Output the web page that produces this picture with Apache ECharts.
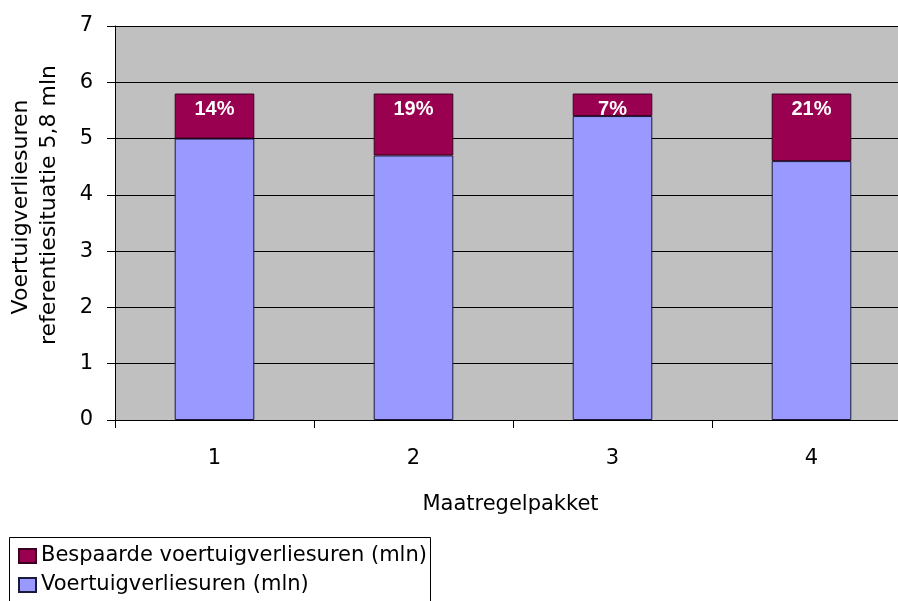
<!DOCTYPE html>
<html><head><meta charset="utf-8">
<script src="https://cdn.jsdelivr.net/npm/echarts@6/dist/echarts.min.js"></script>
<style>html,body{margin:0;padding:0;background:#fff}#c{width:898px;height:601px}</style>
</head><body><div id="c"></div>
<script>
var categories = ['1', '2', '3', '4'];
var voertuigverliesuren = [5.0, 4.7, 5.4, 4.6];
var bespaard = [0.8, 1.1, 0.4, 1.2];
var percentLabels = ['14%', '19%', '7%', '21%'];
var yTicks = [0, 1, 2, 3, 4, 5, 6, 7];
var yTitleLines = ['Voertuigverliesuren', 'referentiesituatie 5,8 mln'];

var F = '"DejaVu Sans", Verdana, sans-serif';
var FB = '"Liberation Sans", Arial, sans-serif';
var chart = echarts.init(document.getElementById('c'));
chart.setOption({
  animation: false,
  backgroundColor: '#ffffff',
  grid: { left: 115, top: 26, width: 796, height: 394, show: true, backgroundColor: '#c0c0c0',
    borderWidth: 0, containLabel: false, outerBoundsMode: 'none' },
  xAxis: {
    type: 'category', data: categories,
    axisLine: { lineStyle: { color: '#000', width: 1 } },
    axisTick: { show: true, length: 8, lineStyle: { color: '#000' } },
    axisLabel: { color: '#000', fontFamily: F, fontSize: 21, margin: 28 },
    name: 'Maatregelpakket', nameLocation: 'middle', nameGap: 74,
    nameTextStyle: { color: '#000', fontFamily: F, fontSize: 21, padding: [0, 0, 0, -5] }
  },
  yAxis: {
    type: 'value', min: 0, max: 7, interval: 1,
    axisLine: { show: true, lineStyle: { color: '#000', width: 1 } },
    axisTick: { show: true, length: 8, lineStyle: { color: '#000' } },
    splitLine: { show: true, lineStyle: { color: '#000', width: 1 } },
    axisLabel: { color: '#000', fontFamily: F, fontSize: 21, margin: 22,
      formatter: function (v) { return yTicks.indexOf(v) >= 0 ? String(v) : ''; } }
  },
  legend: {
    orient: 'vertical', left: 18, top: 545, itemGap: 7,
    itemWidth: 17, itemHeight: 14, icon: 'rect',
    padding: 0,
    textStyle: { color: '#000', fontFamily: F, fontSize: 21, lineHeight: 22 },
    data: ['Bespaarde voertuigverliesuren (mln)', 'Voertuigverliesuren (mln)']
  },
  graphic: [
    { type: 'rect', shape: { x: 9.5, y: 537.5, width: 421, height: 90 },
      style: { fill: 'none', stroke: '#000', lineWidth: 1 }, silent: true },
    { type: 'text', x: 21, y: 207, rotation: Math.PI / 2,
      style: { text: yTitleLines[0], font: '22px ' + F, fill: '#000', textAlign: 'center', textVerticalAlign: 'middle' } },
    { type: 'text', x: 49, y: 205, rotation: Math.PI / 2,
      style: { text: yTitleLines[1], font: '22px ' + F, fill: '#000', textAlign: 'center', textVerticalAlign: 'middle' } }
  ],
  series: [
    { name: 'Voertuigverliesuren (mln)', type: 'bar', stack: 't', barWidth: '40%',
      data: voertuigverliesuren,
      itemStyle: { color: '#9999ff', borderColor: '#1a1a3a', borderWidth: 1 } },
    { name: 'Bespaarde voertuigverliesuren (mln)', type: 'bar', stack: 't', barWidth: '40%',
      data: bespaard,
      itemStyle: { color: '#990050', borderColor: '#3a0020', borderWidth: 1 },
      label: { show: true, position: 'insideTop', distance: 6, color: '#fff', fontFamily: FB, fontWeight: 'bold', fontSize: 20,
        formatter: function (p) { return percentLabels[p.dataIndex]; } } }
  ]
});
</script></body></html>
